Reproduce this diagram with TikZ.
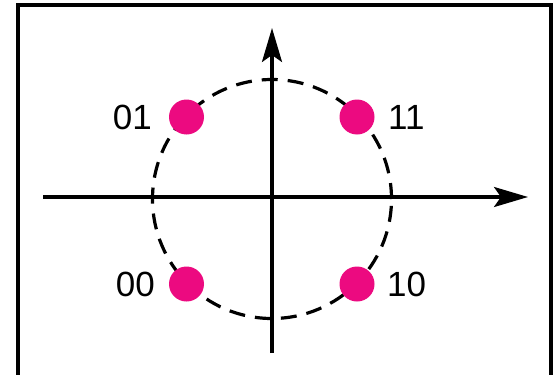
\documentclass[tikz,border=0pt]{standalone}
\usepackage{fontspec}
\setmainfont{Liberation Sans}
\usetikzlibrary{arrows.meta}
\definecolor{dotpink}{RGB}{236,10,128}
\tikzset{
  axis/.style={line width=3.2pt, -{Stealth[length=34pt,width=20pt,inset=7pt]}},
  dot/.style={circle, fill=dotpink, draw=none, minimum size=35pt, inner sep=0pt},
  lbl/.style={inner sep=0pt, font=\fontsize{35pt}{35pt}\selectfont},
  ring/.style={line width=3.2pt, dash pattern=on 16pt off 10pt}
}
\begin{document}
\begin{tikzpicture}[x=1pt, y=-1pt]
\useasboundingbox (0,0) rectangle (555,375);
\fill[white] (0,0) rectangle (555,375);
\draw[line width=3.4pt] (18,5) rectangle (551,390);
% circle
\coordinate (c) at (272,199);
\draw[ring] (c) circle (119.5pt);
% axes
\coordinate (xs) at (43,197);
\coordinate (xe) at (528,197);
\coordinate (ys) at (272,353);
\coordinate (ye) at (272,28);
\draw[axis] (xs) -- (xe);
\draw[axis] (ys) -- (ye);
% dots
\node[dot] (d01) at (186.5,117) {};
\node[dot] (d11) at (357,117) {};
\node[dot] (d00) at (186.5,284) {};
\node[dot] (d10) at (357,284) {};
% labels
\node[lbl, anchor=east] (l01) at (152,117) {01};
\node[lbl, anchor=west] (l11) at (388,117) {11};
\node[lbl, anchor=east] (l00) at (155,284) {00};
\node[lbl, anchor=west] (l10) at (387,284) {10};
\end{tikzpicture}
\end{document}
